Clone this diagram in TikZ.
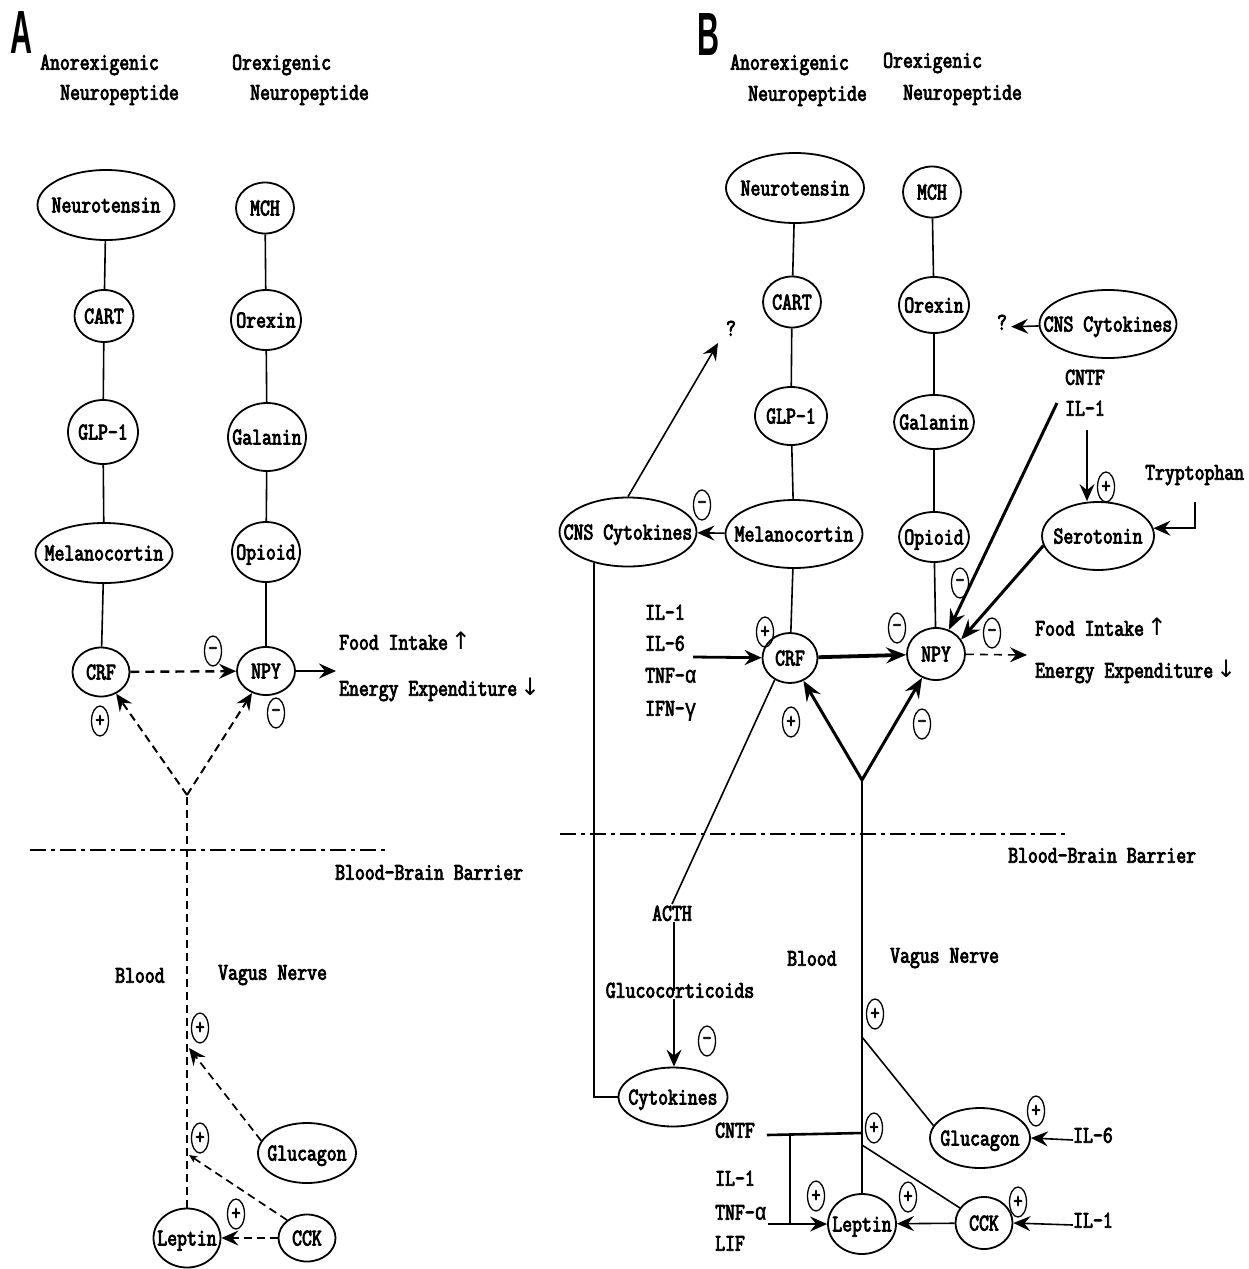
\documentclass[tikz,border=0pt]{standalone}
\usepackage{fontspec}
\usetikzlibrary{shapes.geometric,arrows.meta}
\newfontfamily\tw[FakeStretch=0.8,FakeBold=3.5]{Latin Modern Mono}
\newfontfamily\gk[FakeStretch=0.8,FakeBold=1.5]{Liberation Mono}
\newfontfamily\heavy[FakeStretch=0.5]{Liberation Sans}
\newfontfamily\sym{DejaVu Sans}
% centre a label inside a fixed-size ellipse without letting it resize the shape
\newcommand\ctr[1]{\makebox[0pt]{\raisebox{-.5\height}[0pt][0pt]{#1}}}
\begin{document}
\begin{tikzpicture}[x=1pt,y=-1pt,
  every node/.style={font=\tw\fontsize{24}{27}\selectfont},
  pep/.style={ellipse, draw, line width=1.8pt, inner sep=0pt},
  sz/.style 2 args={minimum width=#1pt, minimum height=#2pt},
  txt/.style={inner sep=0pt, anchor=west, text height=1.5ex, text depth=.25ex},
  ctxt/.style={inner sep=0pt, text height=1.5ex, text depth=.25ex},
  sgn/.style={ellipse, draw, line width=1.3pt, minimum width=17pt, minimum height=30pt,
              inner sep=0pt, font=\tw\fontsize{22}{22}\selectfont},
  panel/.style={inner sep=0pt, font=\heavy\bfseries\fontsize{61}{61}\selectfont},
  link/.style={line width=1.6pt},
  dsh/.style={line width=1.7pt, dash pattern=on 8pt off 5pt},
  tip/.style={-{Stealth[length=17pt,width=15pt,inset=6pt]}},
  smalltip/.style={-{Stealth[length=8pt,width=7pt,inset=2pt]}},
  heavyarr/.style={line width=3pt, -{Stealth[length=20pt,width=16pt,inset=7pt]}},
  bbb/.style={line width=2pt, dash pattern=on 16pt off 5pt on 4pt off 5pt},
]
\fill[white] (0,0) rectangle (1249,1269);
\useasboundingbox (0,0) rectangle (1249,1269);

% ======================= Panel A =======================
\node[panel] (labA) at (22,33) {A};
\node[txt] (anoA1) at (40,67) {Anorexigenic};
\node[txt] (anoA2) at (60,97) {Neuropeptide};
\node[txt] (orxA1) at (232,67) {Orexigenic};
\node[txt] (orxA2) at (250,97) {Neuropeptide};

\node[pep, sz={137}{70}] (neurA) at (106,205) {\ctr{Neurotensin}};
\node[pep, sz={58}{51}]  (mchA)  at (265,208) {\ctr{MCH}};
\node[pep, sz={59}{52}]  (cartA) at (104,316) {\ctr{CART}};
\node[pep, sz={70}{60}]  (orexA) at (266,320) {\ctr{Orexin}};
\node[pep, sz={70}{64}]  (glpA)  at (103,432) {\ctr{GLP-1}};
\node[pep, sz={78}{68}]  (galA)  at (267,437) {\ctr{Galanin}};
\node[pep, sz={137}{60}] (melA)  at (104,553) {\ctr{Melanocortin}};
\node[pep, sz={68}{60}]  (opiA)  at (266,552) {\ctr{Opioid}};
\node[pep, sz={57}{49}]  (crfA)  at (101,672) {\ctr{CRF}};
\node[pep, sz={58}{48}]  (npyA)  at (266,671) {\ctr{NPY}};

\draw[link] (neurA) -- (cartA);
\draw[link] (cartA) -- (glpA);
\draw[link] (glpA) -- (melA);
\draw[link] (melA) -- (crfA);
\draw[link] (mchA) -- (orexA);
\draw[link] (orexA) -- (galA);
\draw[link] (galA) -- (opiA);
\draw[link] (opiA) -- (npyA);

\draw[line width=2.4pt, dash pattern=on 9pt off 6pt, tip] (crfA) -- (npyA);
\coordinate (fiA) at (336,671);
\draw[line width=2.6pt, tip] (npyA) -- (fiA);
\node[txt] (foodA) at (339,647) {Food Intake\kern3pt{\sym ↑}};
\node[txt] (enA) at (339,693) {Energy Expenditure\kern3pt{\sym ↓}};

\node[sgn] (sA1) at (213,651) {-};
\node[sgn] (sA2) at (100,721) {+};
\node[sgn] (sA3) at (276,713) {-};

\coordinate (yA) at (187,795);
\draw[dsh, line width=2pt, tip] (yA) -- (crfA);
\draw[dsh, line width=2pt, tip] (yA) -- (npyA);

\coordinate (bbA1) at (30,850);
\coordinate (bbA2) at (387,850);
\draw[bbb] (bbA1) -- (bbA2);
\node[txt] (bbtA) at (335,877) {Blood-Brain Barrier};
\node[txt] (bloodA) at (115,980) {Blood};
\node[txt] (vagA) at (218,977) {Vagus Nerve};

\node[pep, sz={98}{60}] (glucA) at (307,1153) {\ctr{Glucagon}};
\node[pep, sz={67}{59}] (lepA)  at (187,1238) {\ctr{Leptin}};
\node[pep, sz={57}{47}] (cckA)  at (307,1238) {\ctr{CCK}};

\draw[dsh] (lepA) -- (yA);
\coordinate (gA) at (189,1048);
\draw[dsh, tip] (glucA.165) -- (gA);
\coordinate (cA) at (189,1155);
\draw[dsh, smalltip] (cckA.138) -- (cA);
\draw[dsh, tip] (cckA) -- (lepA);

\node[sgn] (sA4) at (200,1028) {+};
\node[sgn] (sA5) at (200,1138) {+};
\node[sgn] (sA6) at (236,1214) {+};

% ======================= Panel B =======================
\node[panel] (labB) at (709,35) {B};
\node[txt] (anoB1) at (730,67) {Anorexigenic};
\node[txt] (anoB2) at (748,98) {Neuropeptide};
\node[txt] (orxB1) at (883,65) {Orexigenic};
\node[txt] (orxB2) at (903,97) {Neuropeptide};

\node[pep, sz={138}{70}] (neurB) at (795,188) {\ctr{Neurotensin}};
\node[pep, sz={58}{51}]  (mchB)  at (932,192) {\ctr{MCH}};
\node[pep, sz={58}{51}]  (cartB) at (792,302) {\ctr{CART}};
\node[pep, sz={70}{56}]  (orexB) at (934,305) {\ctr{Orexin}};
\node[pep, sz={72}{58}]  (glpB)  at (791,416) {\ctr{GLP-1}};
\node[pep, sz={80}{54}]  (galB)  at (934,422) {\ctr{Galanin}};
\node[pep, sz={137}{68}] (melB)  at (794,534) {\ctr{Melanocortin}};
\node[pep, sz={70}{50}]  (opiB)  at (934,537) {\ctr{Opioid}};
\node[pep, sz={55}{50}]  (crfB)  at (790,658) {\ctr{CRF}};
\node[pep, sz={58}{52}]  (npyB)  at (936,654) {\ctr{NPY}};
\node[pep, sz={137}{69}] (cnsL)  at (628,532) {\ctr{CNS Cytokines}};
\node[pep, sz={137}{68}] (cnsR)  at (1108,324) {\ctr{CNS Cytokines}};
\node[pep, sz={112}{68}] (seroB) at (1098,536) {\ctr{Serotonin}};

\draw[link] (neurB) -- (cartB);
\draw[link] (cartB) -- (glpB);
\draw[link] (glpB) -- (melB);
\draw[link] (melB) -- (crfB);
\draw[link] (mchB) -- (orexB);
\draw[link] (orexB) -- (galB);
\draw[link] (galB) -- (opiB);
\draw[link] (opiB) -- (npyB);

% cytokine feedback in the brain
\draw[link, tip] (melB) -- (cnsL);
\node[sgn] (sB1) at (702,505) {-};
\node[ctxt] (qL) at (731,333) {?};
\coordinate (qLa) at (718,343);
\draw[link, tip] (cnsL.north) -- (qLa);
\node[ctxt, inner sep=4pt] (qR) at (1002,327) {?};
\draw[link, tip] (cnsR) -- (qR);

\node[txt] (cntfR) at (1065,382) {CNTF};
\node[txt] (il1R) at (1065,413) {IL-1};
\coordinate (i1) at (1087,430);
\draw[link, tip] (i1) -- (i1 |- seroB.north);
\node[sgn] (sB2) at (1106,487) {+};
\node[txt] (tryp) at (1145,477) {Tryptophan};
\coordinate (tr1) at (1195,502);
\draw[link, tip] (tr1) |- (seroB.8);

\coordinate (c1) at (1057,403);
\draw[heavyarr] (c1) -- (npyB.62);
\draw[heavyarr] (seroB.190) -- (npyB.30);
\node[sgn] (sB3) at (960,583) {-};
\node[sgn] (sB4) at (992,633) {-};

\coordinate (fiB) at (1027,655);
\draw[line width=1.6pt, dash pattern=on 8pt off 6pt, tip] (npyB) -- (fiB);
\node[txt] (foodB) at (1035,633) {Food Intake\kern3pt{\sym ↑}};
\node[txt] (enB) at (1035,675) {Energy Expenditure\kern3pt{\sym ↓}};

% cytokines acting on CRF
\node[txt] (il1B) at (645,617) {IL-1};
\node[txt] (il6B) at (645,648) {IL-6};
\node[txt] (tnfB) at (645,680) {TNF-{\gk α}};
\node[txt] (ifnB) at (645,713) {IFN-{\gk γ}};
\coordinate (ilB) at (693,657);
\draw[line width=2.8pt, tip] (ilB) -- (crfB);
\node[sgn] (sB5) at (765,632) {+};
\draw[heavyarr, line width=3.8pt] (crfB) -- (npyB);
\node[sgn] (sB6) at (897,628) {-};

\coordinate (yB) at (862,780);
\draw[heavyarr] (yB) -- (crfB);
\draw[heavyarr] (yB) -- (npyB);
\node[sgn] (sB7) at (791,722) {+};
\node[sgn] (sB8) at (922,724) {-};

% blood-brain barrier
\coordinate (bbB1) at (560,834);
\coordinate (bbB2) at (1068,834);
\draw[bbb] (bbB1) -- (bbB2);
\node[txt] (bbtB) at (1008,860) {Blood-Brain Barrier};
\node[txt] (bloodB) at (787,963) {Blood};
\node[txt] (vagB) at (890,960) {Vagus Nerve};

% HPA axis
\node[ctxt] (actB) at (672,918) {ACTH};
\node[ctxt] (glucoB) at (680,995) {Glucocorticoids};
\node[pep, sz={109}{59}] (cytB) at (673,1097) {\ctr{Cytokines}};
\draw[link] (crfB.235) -- ([yshift=10pt]actB.north);
\draw[link] ([xshift=2pt]actB.south) -- ([xshift=-6pt]glucoB.north);
\draw[link, tip] ([xshift=-6pt]glucoB.south) -- ([xshift=1pt]cytB.north);
\node[sgn] (sB9) at (707,1041) {-};
\draw[link] (cnsL.222) |- (cytB);

% periphery
\node[pep, sz={100}{60}] (glucB) at (980,1138) {\ctr{Glucagon}};
\node[pep, sz={68}{60}]  (lepB)  at (862,1224) {\ctr{Leptin}};
\node[pep, sz={57}{52}]  (cckB)  at (984,1223) {\ctr{CCK}};

\draw[line width=2.4pt] (lepB) -- (yB);
\coordinate (gB) at (862,1037);
\draw[link] (gB) -- (glucB.165);
\node[sgn] (sB10) at (875,1014) {+};

\node[txt] (il6R) at (1073,1140) {IL-6};
\draw[link, tip] (il6R.west) -- (glucB.east);
\node[sgn] (sB11) at (1036,1111) {+};
\node[txt] (il1C) at (1073,1225) {IL-1};
\draw[link, tip] (il1C.west) -- (cckB.east);
\node[sgn] (sB12) at (1018,1202) {+};

\coordinate (kB) at (862,1145);
\draw[link] (kB) -- (cckB.148);
\draw[link, tip] (cckB) -- (lepB);
\node[sgn] (sB13) at (816,1196) {+};
\node[sgn] (sB14) at (908,1197) {+};

\node[txt] (cntfB) at (715,1135) {CNTF};
\node[txt] (il1D) at (715,1183) {IL-1};
\node[txt] (tnfC) at (715,1217) {TNF-{\gk α}};
\node[txt] (lifB) at (715,1248) {LIF};
\coordinate (hB) at (862,1133);
\draw[line width=2.6pt] ([xshift=12pt]cntfB.east) -- (hB);
\node[sgn] (sB15) at (874,1128) {+};
\coordinate (jB) at (790,1133);
\draw[line width=2.2pt, tip] (jB) |- (lepB);
\draw[line width=2.6pt] ([xshift=2pt]tnfC.east |- lepB) -- (jB |- lepB);
\end{tikzpicture}
\end{document}
